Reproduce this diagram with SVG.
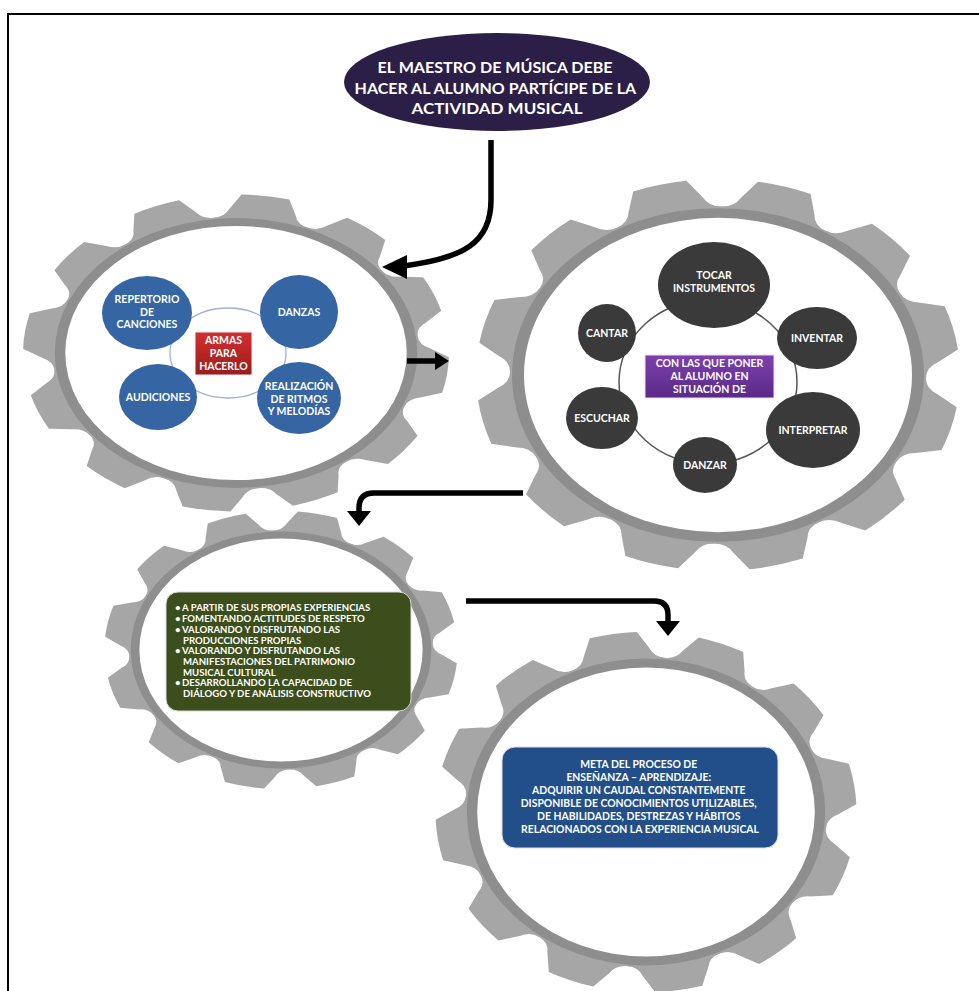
<svg xmlns="http://www.w3.org/2000/svg" xmlns:xlink="http://www.w3.org/1999/xlink" width="979" height="991" viewBox="0 0 979 991">
  <style>
    .cog { fill: #a6a6a6; }
    .ring { fill: #8e8e8e; }
    .hole { fill: #ffffff; }
    .t { font-family: Lato, "Liberation Sans", sans-serif; font-weight: 700; fill: #ffffff; text-anchor: middle; }
    .tl { font-family: Lato, "Liberation Sans", sans-serif; font-weight: 700; fill: #ffffff; }
    .blue { fill: #3565a3; }
    .dark { fill: #3a3a3a; }
    .wire { stroke: #000000; stroke-width: 5.5; fill: none; stroke-linecap: butt; }
    .head { fill: #000000; }
  </style>
  <defs>
    <!-- one tooth wedge of a 12-tooth cog (tip radius 121, rounded notches) -->
    <path id="wedge" d="M0,0 L-26.92,-100.46 A11,11 0 0 0 -19.10,-108.33 L-13.70,-120.22 A121,121 0 0 1 13.70,-120.22 L19.10,-108.33 A11,11 0 0 0 26.92,-100.46 Z"/>
    <g id="cog" class="cog">
      <use xlink:href="#wedge"/>
      <use xlink:href="#wedge" transform="rotate(30)"/>
      <use xlink:href="#wedge" transform="rotate(60)"/>
      <use xlink:href="#wedge" transform="rotate(90)"/>
      <use xlink:href="#wedge" transform="rotate(120)"/>
      <use xlink:href="#wedge" transform="rotate(150)"/>
      <use xlink:href="#wedge" transform="rotate(180)"/>
      <use xlink:href="#wedge" transform="rotate(210)"/>
      <use xlink:href="#wedge" transform="rotate(240)"/>
      <use xlink:href="#wedge" transform="rotate(270)"/>
      <use xlink:href="#wedge" transform="rotate(300)"/>
      <use xlink:href="#wedge" transform="rotate(330)"/>
      <circle r="104"/>
    </g>
    <linearGradient id="redFill" x1="0" y1="0" x2="0" y2="1">
      <stop offset="0" stop-color="#d2302f"/>
      <stop offset="1" stop-color="#9c1b1c"/>
    </linearGradient>
    <linearGradient id="purpleFill" x1="0" y1="0" x2="0" y2="1">
      <stop offset="0" stop-color="#7d3fae"/>
      <stop offset="1" stop-color="#5a2a88"/>
    </linearGradient>
  </defs>

  <rect width="979" height="991" fill="#ffffff"/>
  <!-- page frame -->
  <rect x="8" y="14" width="990" height="990" fill="none" stroke="#000000" stroke-width="2"/>

  <!-- cog 1: tools -->
  <g id="gear-tools">
    <g transform="translate(236,353) scale(1.76,1.31)">
      <use xlink:href="#cog" transform="rotate(8)"/>
      <circle class="ring" r="103"/>
      <circle class="hole" r="97"/>
    </g>
    <ellipse cx="228" cy="353" rx="58" ry="45" fill="none" stroke="#9db3d6" stroke-width="1.3"/>
    <g id="node-repertorio">
      <ellipse class="blue" cx="147" cy="313" rx="45" ry="37"/>
      <text class="t" font-size="10.5"><tspan x="147" y="303">REPERTORIO</tspan><tspan x="147" y="315.5">DE</tspan><tspan x="147" y="328">CANCIONES</tspan></text>
    </g>
    <g id="node-danzas">
      <ellipse class="blue" cx="299" cy="312" rx="39" ry="37"/>
      <text class="t" font-size="10.5" x="299" y="316">DANZAS</text>
    </g>
    <g id="node-audiciones">
      <ellipse class="blue" cx="158" cy="397" rx="39" ry="33"/>
      <text class="t" font-size="10.5" x="158" y="401">AUDICIONES</text>
    </g>
    <g id="node-realizacion">
      <ellipse class="blue" cx="299" cy="398" rx="42" ry="36"/>
      <text class="t" font-size="10.5"><tspan x="299" y="390">REALIZACIÓN</tspan><tspan x="299" y="402.5">DE RITMOS</tspan><tspan x="299" y="415">Y MELODÍAS</tspan></text>
    </g>
    <g id="node-armas">
      <rect x="195" y="332" width="57" height="43" fill="url(#redFill)" stroke="#f2f2f2" stroke-width="1"/>
      <text class="t" font-size="10.5"><tspan x="223.5" y="344">ARMAS</tspan><tspan x="223.5" y="357">PARA</tspan><tspan x="223.5" y="369.5">HACERLO</tspan></text>
    </g>
  </g>

  <!-- cog 2: situations -->
  <g id="gear-situations">
    <g transform="translate(718,375) scale(2.0,1.62)">
      <use xlink:href="#cog" transform="rotate(16)"/>
      <circle class="ring" r="103"/>
      <circle class="hole" r="97"/>
    </g>
    <ellipse cx="708" cy="382" rx="89" ry="82" fill="none" stroke="#555555" stroke-width="1.5"/>
    <g id="node-tocar">
      <ellipse class="dark" cx="714" cy="285" rx="56" ry="43"/>
      <text class="t" font-size="10.5"><tspan x="714" y="279">TOCAR</tspan><tspan x="714" y="292">INSTRUMENTOS</tspan></text>
    </g>
    <g id="node-inventar">
      <ellipse class="dark" cx="817" cy="338" rx="40" ry="31"/>
      <text class="t" font-size="10.5" x="817" y="342">INVENTAR</text>
    </g>
    <g id="node-interpretar">
      <ellipse class="dark" cx="813" cy="430" rx="47" ry="38"/>
      <text class="t" font-size="10.5" x="813" y="434">INTERPRETAR</text>
    </g>
    <g id="node-danzar">
      <ellipse class="dark" cx="705" cy="465" rx="32" ry="28"/>
      <text class="t" font-size="10.5" x="705" y="469">DANZAR</text>
    </g>
    <g id="node-escuchar">
      <ellipse class="dark" cx="602" cy="418" rx="36" ry="31"/>
      <text class="t" font-size="10.5" x="602" y="422">ESCUCHAR</text>
    </g>
    <g id="node-cantar">
      <ellipse class="dark" cx="607" cy="333" rx="29" ry="29"/>
      <text class="t" font-size="10.5" x="607" y="337">CANTAR</text>
    </g>
    <g id="node-con-las-que">
      <rect x="645" y="355" width="129" height="43" fill="url(#purpleFill)" stroke="#e6e0ee" stroke-width="1"/>
      <text class="t" font-size="10.5"><tspan x="709.5" y="367">CON LAS QUE PONER</tspan><tspan x="709.5" y="380">AL ALUMNO EN</tspan><tspan x="709.5" y="392.5">SITUACIÓN DE</tspan></text>
    </g>
  </g>

  <!-- cog 3: attitudes -->
  <g id="gear-attitudes">
    <g transform="translate(281,650) scale(1.46,1.15)">
      <use xlink:href="#cog" transform="rotate(12)"/>
      <circle class="ring" r="103"/>
      <circle class="hole" r="97"/>
    </g>
    <rect x="166" y="592" width="245" height="119" rx="12" fill="#3c4e1c" stroke="#d8d8d8" stroke-width="1"/>
    <text class="tl" font-size="9.6">
      <tspan x="175" y="611">•</tspan><tspan x="182" y="611">A PARTIR DE SUS PROPIAS EXPERIENCIAS</tspan>
      <tspan x="175" y="622">•</tspan><tspan x="182" y="622">FOMENTANDO ACTITUDES DE RESPETO</tspan>
      <tspan x="175" y="633">•</tspan><tspan x="182" y="633">VALORANDO Y DISFRUTANDO LAS</tspan>
      <tspan x="183" y="643.5">PRODUCCIONES PROPIAS</tspan>
      <tspan x="175" y="654">•</tspan><tspan x="182" y="654">VALORANDO Y DISFRUTANDO LAS</tspan>
      <tspan x="183" y="664.5">MANIFESTACIONES DEL PATRIMONIO</tspan>
      <tspan x="183" y="675.5">MUSICAL CULTURAL</tspan>
      <tspan x="175" y="686">•</tspan><tspan x="182" y="686">DESARROLLANDO LA CAPACIDAD DE</tspan>
      <tspan x="183" y="697">DIÁLOGO Y DE ANÁLISIS CONSTRUCTIVO</tspan>
    </text>
  </g>

  <!-- cog 4: goal -->
  <g id="gear-goal">
    <g transform="translate(646,812) scale(1.74,1.49)">
      <use xlink:href="#cog" transform="rotate(21)"/>
      <circle class="ring" r="103"/>
      <circle class="hole" r="97"/>
    </g>
    <rect x="502" y="747" width="276" height="101" rx="13" fill="#224f89" stroke="#dcdcdc" stroke-width="1"/>
    <text class="t" font-size="10.4">
      <tspan x="640" y="768">META DEL PROCESO DE</tspan>
      <tspan x="640" y="781">ENSEÑANZA – APRENDIZAJE:</tspan>
      <tspan x="640" y="794">ADQUIRIR UN CAUDAL CONSTANTEMENTE</tspan>
      <tspan x="640" y="807">DISPONIBLE DE CONOCIMIENTOS UTILIZABLES,</tspan>
      <tspan x="640" y="820">DE HABILIDADES, DESTREZAS Y HÁBITOS</tspan>
      <tspan x="640" y="833">RELACIONADOS CON LA EXPERIENCIA MUSICAL</tspan>
    </text>
  </g>

  <!-- heading -->
  <g id="node-maestro">
    <ellipse cx="497" cy="82" rx="153" ry="49" fill="#2b1f47"/>
    <text class="t" font-size="15.5">
      <tspan x="497" y="73" textLength="235" lengthAdjust="spacingAndGlyphs">EL MAESTRO DE MÚSICA DEBE</tspan>
      <tspan x="497" y="94" textLength="281" lengthAdjust="spacingAndGlyphs">HACER AL ALUMNO PARTÍCIPE DE LA</tspan>
      <tspan x="497" y="114" textLength="171" lengthAdjust="spacingAndGlyphs">ACTIVIDAD MUSICAL</tspan>
    </text>
  </g>

  <!-- connectors -->
  <g id="connectors">
    <path class="wire" d="M491,140 V200 C491,244 462,258 404,266"/>
    <polygon class="head" points="382,267 407,255 407,279"/>
    <path class="wire" d="M407,361 H437"/>
    <polygon class="head" points="449,361 435,352 435,370"/>
    <path class="wire" d="M523,493 H374 Q359,493 359,508 V512"/>
    <polygon class="head" points="347,511 371,511 359,526"/>
    <path class="wire" d="M466,601 H654 Q668,601 668,615 V622"/>
    <polygon class="head" points="656,621 680,621 668,636"/>
  </g>
</svg>
